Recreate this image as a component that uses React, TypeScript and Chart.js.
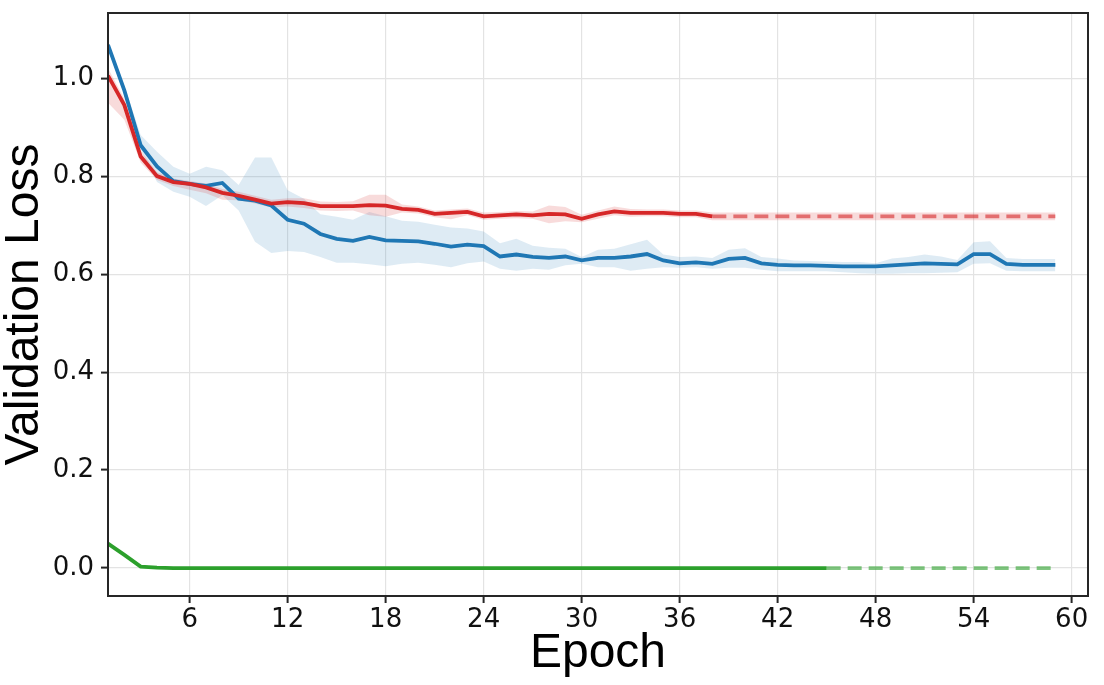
import { useEffect, useRef } from "react";
import { Chart, registerables } from "chart.js";

Chart.register(...registerables);

const epochs = [
  1, 2, 3, 4, 5, 6, 7, 8, 9, 10, 11, 12, 13, 14, 15, 16, 17, 18, 19, 20,
  21, 22, 23, 24, 25, 26, 27, 28, 29, 30, 31, 32, 33, 34, 35, 36, 37, 38, 39, 40,
  41, 42, 43, 44, 45, 46, 47, 48, 49, 50, 51, 52, 53, 54, 55, 56, 57, 58, 59,
];

const blueMean = [
  1.068, 0.975, 0.863, 0.82, 0.79, 0.784, 0.78, 0.786, 0.754, 0.75,
  0.74, 0.711, 0.703, 0.682, 0.672, 0.668, 0.676, 0.669, 0.668, 0.667,
  0.662, 0.656, 0.66, 0.657, 0.636, 0.64, 0.635, 0.633, 0.636, 0.628,
  0.633, 0.633, 0.636, 0.641, 0.628, 0.622, 0.624, 0.621, 0.631, 0.633,
  0.622, 0.619, 0.618, 0.618, 0.617, 0.616, 0.616, 0.616, 0.618, 0.62,
  0.622, 0.621, 0.62, 0.641, 0.641, 0.621, 0.619, 0.619, 0.619,
];
const blueUpper = [
  1.075, 0.985, 0.884, 0.85, 0.819, 0.805, 0.819, 0.812, 0.782, 0.838,
  0.838, 0.771, 0.754, 0.722, 0.717, 0.711, 0.727, 0.718, 0.709, 0.707,
  0.701, 0.695, 0.693, 0.687, 0.663, 0.672, 0.658, 0.654, 0.652, 0.635,
  0.65, 0.652, 0.661, 0.67, 0.64, 0.635, 0.636, 0.633, 0.65, 0.653,
  0.635, 0.632, 0.628, 0.627, 0.626, 0.625, 0.625, 0.622, 0.632, 0.635,
  0.64, 0.636, 0.629, 0.665, 0.667, 0.633, 0.631, 0.631, 0.631,
];
const blueLower = [
  1.06, 0.965, 0.855, 0.788, 0.768, 0.758, 0.739, 0.761, 0.73, 0.666,
  0.643, 0.647, 0.645, 0.635, 0.623, 0.623, 0.62, 0.616, 0.621, 0.623,
  0.619, 0.614, 0.622, 0.626, 0.611, 0.607, 0.611, 0.609, 0.618, 0.621,
  0.614, 0.614, 0.607, 0.611, 0.614, 0.613, 0.614, 0.611, 0.613, 0.613,
  0.609, 0.606, 0.606, 0.606, 0.606, 0.604, 0.602, 0.601, 0.601, 0.602,
  0.602, 0.603, 0.604, 0.621, 0.622, 0.607, 0.606, 0.606, 0.606,
];

const redMean = [
  1.005, 0.945, 0.84, 0.8, 0.788, 0.784, 0.777, 0.766, 0.76, 0.752,
  0.744, 0.747, 0.745, 0.739, 0.739, 0.739, 0.741, 0.74, 0.733, 0.731,
  0.723, 0.725, 0.727, 0.718, 0.72, 0.722, 0.72, 0.723, 0.722, 0.713,
  0.722, 0.728, 0.725, 0.725, 0.725, 0.723, 0.723, 0.718, 0.718, 0.718,
  0.718, 0.718, 0.718, 0.718, 0.718, 0.718, 0.718, 0.718, 0.718, 0.718,
  0.718, 0.718, 0.718, 0.718, 0.718, 0.718, 0.718, 0.718, 0.718,
];
const redUpper = [
  1.02, 0.958, 0.852, 0.808, 0.795, 0.79, 0.785, 0.774, 0.768, 0.76,
  0.752, 0.755, 0.755, 0.748, 0.747, 0.749, 0.762, 0.762, 0.742, 0.738,
  0.73, 0.732, 0.734, 0.726, 0.727, 0.729, 0.728, 0.74, 0.737, 0.721,
  0.73, 0.738, 0.733, 0.732, 0.732, 0.73, 0.73, 0.726, 0.726, 0.726,
  0.726, 0.726, 0.726, 0.726, 0.726, 0.726, 0.726, 0.726, 0.726, 0.726,
  0.726, 0.726, 0.726, 0.726, 0.726, 0.726, 0.726, 0.726, 0.726,
];
const redLower = [
  0.95, 0.915, 0.828, 0.792, 0.78, 0.772, 0.765, 0.752, 0.751, 0.744,
  0.736, 0.738, 0.735, 0.73, 0.729, 0.73, 0.72, 0.717, 0.726, 0.724,
  0.716, 0.712, 0.72, 0.711, 0.713, 0.714, 0.713, 0.704, 0.708, 0.706,
  0.713, 0.72, 0.717, 0.718, 0.718, 0.716, 0.716, 0.71, 0.71, 0.71,
  0.71, 0.71, 0.71, 0.71, 0.71, 0.71, 0.71, 0.71, 0.71, 0.71,
  0.71, 0.71, 0.71, 0.71, 0.71, 0.71, 0.71, 0.71, 0.71,
];

const greenMean = [
  0.05, 0.027, 0.003, 0.001, 0, 0, 0, 0, 0, 0,
  0, 0, 0, 0, 0, 0, 0, 0, 0, 0,
  0, 0, 0, 0, 0, 0, 0, 0, 0, 0,
  0, 0, 0, 0, 0, 0, 0, 0, 0, 0,
  0, 0, 0, 0, 0, 0, 0, 0, 0, 0,
  0, 0, 0, 0, 0, 0, 0, 0, 0,
];

// epoch from which the curve continues as a dashed (extended) line
const redDashFrom = 38;
const greenDashFrom = 45;

const xTickValues = [6, 12, 18, 24, 30, 36, 42, 48, 54, 60];
const yTickValues = [0, 0.2, 0.4, 0.6, 0.8, 1.0];

const BLUE = "#1f77b4";
const RED = "#d62728";
const GREEN = "#2ca02c";

export default function App() {
  const ref = useRef<HTMLCanvasElement>(null);

  useEffect(() => {
    document.body.style.margin = "0";
    const canvas = ref.current!;
    const pts = (arr: number[]) => arr.map((y, i) => ({ x: epochs[i], y }));

    const framePlugin = {
      id: "frame",
      afterDraw(chart: any) {
        const { ctx, chartArea } = chart;
        const { left, top, right, bottom } = chartArea;
        ctx.save();
        ctx.strokeStyle = "#262626";
        ctx.lineWidth = 2;
        ctx.strokeRect(left, top, right - left, bottom - top);
        ctx.restore();
      },
    };

    const bandDs = (data: number[], fill: any, color: string) => ({
      data: pts(data),
      borderWidth: 0,
      pointRadius: 0,
      fill,
      backgroundColor: color,
      borderColor: "rgba(0,0,0,0)",
    });

    const zeroPad = (s: any) => {
      s.paddingTop = 0;
      s.paddingBottom = 0;
      s.paddingLeft = 0;
      s.paddingRight = 0;
    };

    const tickFont = { family: "'DejaVu Sans'", size: 26 };
    const titleFont = { family: "'Liberation Sans', Arial", size: 48, lineHeight: 1 };
    const grid = {
      color: "#e3e3e3",
      lineWidth: 1.2,
      tickColor: "#262626",
      tickLength: 7,
      tickWidth: 2,
    };

    const chart = new Chart(canvas, {
      type: "line",
      data: {
        datasets: [
          {
            label: "green",
            data: pts(greenMean),
            borderColor: GREEN,
            borderWidth: 3.8,
            pointRadius: 0,
            fill: false,
            segment: {
              borderDash: (c: any) =>
                epochs[c.p0DataIndex] >= greenDashFrom ? [14, 7] : undefined,
              borderColor: (c: any) =>
                epochs[c.p0DataIndex] >= greenDashFrom ? "rgba(44,160,44,0.6)" : undefined,
            },
          } as any,
          {
            label: "red",
            data: pts(redMean),
            borderColor: RED,
            borderWidth: 3.8,
            pointRadius: 0,
            fill: false,
            segment: {
              borderDash: (c: any) =>
                epochs[c.p0DataIndex] >= redDashFrom ? [14, 7] : undefined,
              borderColor: (c: any) =>
                epochs[c.p0DataIndex] >= redDashFrom ? "rgba(214,39,40,0.6)" : undefined,
            },
          } as any,
          {
            label: "blue",
            data: pts(blueMean),
            borderColor: BLUE,
            borderWidth: 3.8,
            pointRadius: 0,
            fill: false,
          },
          bandDs(redUpper, false, "rgba(214,39,40,0.17)") as any,
          bandDs(redLower, "-1", "rgba(214,39,40,0.17)") as any,
          bandDs(blueUpper, false, "rgba(31,119,180,0.15)") as any,
          bandDs(blueLower, "-1", "rgba(31,119,180,0.15)") as any,
        ],
      },
      options: {
        animation: false,
        responsive: false,
        maintainAspectRatio: false,
        devicePixelRatio: 1,
        layout: { padding: { top: 13, right: 16, left: 0, bottom: 0 } },
        elements: { line: { tension: 0 } },
        plugins: {
          legend: { display: false },
          tooltip: { enabled: false },
        },
        scales: {
          x: {
            type: "linear",
            min: 1,
            max: 61,
            afterBuildTicks: (s: any) => {
              s.ticks = xTickValues.map((v) => ({ value: v }));
            },
            afterFit: (s: any) => {
              s.height = 89;
              zeroPad(s);
            },
            border: { display: false },
            grid,
            ticks: {
              maxRotation: 0,
              autoSkip: false,
              padding: 2,
              color: "#111",
              font: tickFont,
              callback: (v: any) => String(v),
            },
            title: {
              display: true,
              text: "Epoch",
              color: "#000",
              font: titleFont,
              padding: { top: 0, bottom: 7 },
            },
          },
          y: {
            type: "linear",
            min: -0.057,
            max: 1.133,
            afterBuildTicks: (s: any) => {
              s.ticks = yTickValues.map((v) => ({ value: v }));
            },
            afterFit: (s: any) => {
              s.width = 108;
              zeroPad(s);
            },
            border: { display: false },
            grid,
            ticks: {
              autoSkip: false,
              padding: 7,
              color: "#111",
              font: tickFont,
              callback: (v: any) => Number(v).toFixed(1),
            },
            title: {
              display: true,
              text: "Validation Loss",
              color: "#000",
              font: titleFont,
              padding: { top: 1, bottom: 0 },
            },
          },
        },
      },
      plugins: [framePlugin],
    });

    return () => chart.destroy();
  }, []);

  return (
    <div style={{ width: 1104, height: 685 }}>
      <canvas ref={ref} width={1104} height={685} style={{ display: "block" }} />
    </div>
  );
}
